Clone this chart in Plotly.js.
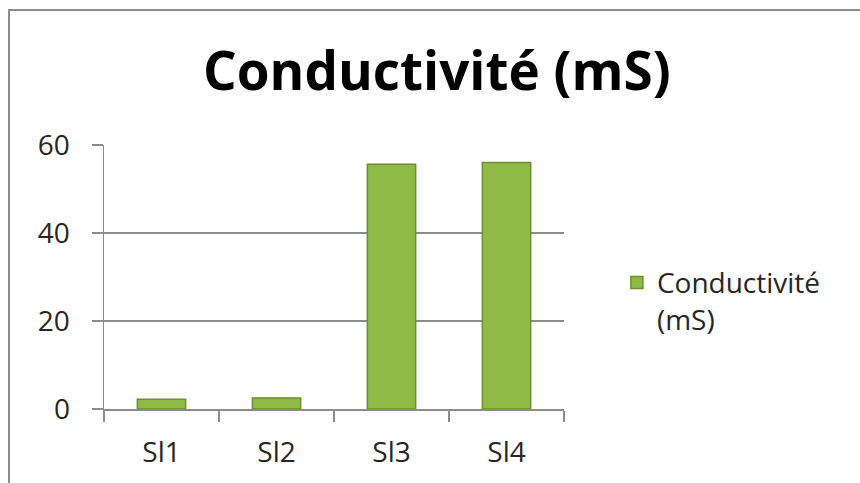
<!DOCTYPE html>
<html>
<head>
<meta charset="utf-8">
<script src="https://cdn.plot.ly/plotly-3.0.1.min.js"></script>
<style>
html,body{margin:0;padding:0;background:#fff;overflow:hidden;}
#chart{width:860px;height:483px;position:absolute;left:0;top:0;}
#frame{position:absolute;left:8px;top:9px;width:900px;height:500px;border-left:2px solid #8c8c8c;border-top:2px solid #8c8c8c;pointer-events:none;}
</style>
</head>
<body>
<div id="chart"></div>
<div id="frame"></div>
<script>
const categories = ["Sl1", "Sl2", "Sl3", "Sl4"];
const conductivite = [2.2, 2.5, 55.6, 56.0];
const seriesName = "Conductivité<br>(mS)";
const yTicks = [0, 20, 40, 60];

const trace = {
  type: "bar",
  x: categories,
  y: conductivite,
  name: seriesName,
  marker: {color: "#8fba47", line: {color: "#6a8f2c", width: 1.5}},
  width: 0.42,
  showlegend: true,
  hoverinfo: "x+y"
};

const layout = {
  width: 860, height: 483,
  margin: {l: 104, r: 296, t: 145, b: 74, pad: 0},
  paper_bgcolor: "#ffffff",
  plot_bgcolor: "#ffffff",
  font: {family: "'Open Sans', 'Noto Sans', sans-serif", size: 28, color: "#262626"},
  title: {
    text: "<b>Conductivité (mS)</b>",
    font: {family: "'Open Sans', 'Noto Sans', sans-serif", size: 53, color: "#000000"},
    x: 0.508, xanchor: "center", y: 0.853, yanchor: "middle"
  },
  xaxis: {
    type: "category",
    showline: true, linecolor: "#8c8c8c", linewidth: 1.5,
    ticks: "outside", ticklen: 11, tickcolor: "#8c8c8c", tickwidth: 1.5,
    tickson: "boundaries",
    ticklabelstandoff: 18,
    showgrid: false, zeroline: false,
    tickfont: {size: 28, color: "#262626"},
    fixedrange: true
  },
  yaxis: {
    range: [0, 60],
    tickvals: yTicks,
    ticktext: yTicks.map(String),
    showline: true, linecolor: "#8c8c8c", linewidth: 1.5,
    ticks: "outside", ticklen: 11, tickcolor: "#8c8c8c", tickwidth: 1.5,
    ticklabelstandoff: 16,
    showgrid: true, gridcolor: "#8c8c8c", gridwidth: 1.2,
    zeroline: false,
    tickfont: {size: 28, color: "#262626"},
    fixedrange: true
  },
  showlegend: true,
  legend: {
    x: 1.115, xanchor: "left", y: 0.41, yanchor: "middle",
    font: {size: 28, color: "#262626"},
    bgcolor: "rgba(0,0,0,0)",
    itemwidth: 30,
    valign: "top"
  },
  bargap: 0.58
};

Plotly.newPlot("chart", [trace], layout, {displayModeBar: false, staticPlot: true});
</script>
</body>
</html>
